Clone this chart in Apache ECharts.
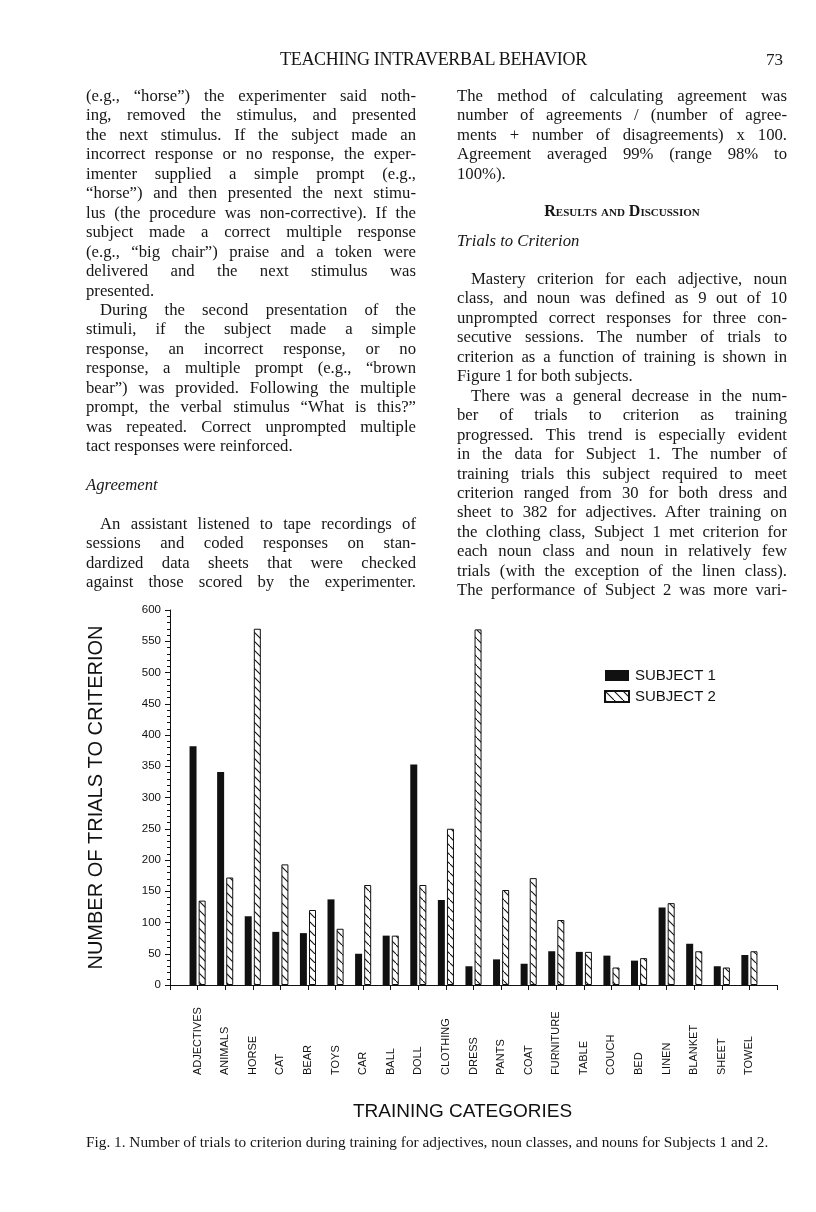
<!DOCTYPE html>
<html>
<head>
<meta charset="utf-8">
<script src="https://cdn.jsdelivr.net/npm/echarts@6/dist/echarts.min.js"></script>
<style>
	html, body { margin: 0; padding: 0; background: #fff; }
	#page { position: relative; width: 816px; height: 1212px; overflow: hidden; }
	#chart { position: absolute; left: 0; top: 0; width: 816px; height: 1212px; }
	.txt { position: absolute; font-family: "Liberation Serif", "DejaVu Serif", serif; color: #161616; font-size: 16.7px; line-height: 19.45px; z-index: 2; }
	.col { width: 330px; }
	.col div { white-space: nowrap; text-align: justify; text-align-last: justify; }
	.col div.l { text-align-last: left; }
	.col div.in { padding-left: 14px; }
	.col div.gap { height: 19.45px; }
	.col div.hd { font-style: italic; text-align-last: left; }
</style>
</head>
<body>
<div id="page">
	<div id="chart"></div>

	<div class="txt" style="left:280px;top:50px;font-size:18px;letter-spacing:-0.3px;">TEACHING INTRAVERBAL BEHAVIOR</div>
	<div class="txt" style="left:766px;top:50px;font-size:17px;">73</div>

	<!-- 左栏 -->
	<div class="txt col" style="left:86px;top:86px;">
		<div>(e.g., “horse”) the experimenter said noth-</div>
		<div>ing, removed the stimulus, and presented</div>
		<div>the next stimulus. If the subject made an</div>
		<div>incorrect response or no response, the exper-</div>
		<div>imenter supplied a simple prompt (e.g.,</div>
		<div>“horse”) and then presented the next stimu-</div>
		<div>lus (the procedure was non-corrective). If the</div>
		<div>subject made a correct multiple response</div>
		<div>(e.g., “big chair”) praise and a token were</div>
		<div>delivered and the next stimulus was</div>
		<div class="l">presented.</div>
		<div class="in">During the second presentation of the</div>
		<div>stimuli, if the subject made a simple</div>
		<div>response, an incorrect response, or no</div>
		<div>response, a multiple prompt (e.g., “brown</div>
		<div>bear”) was provided. Following the multiple</div>
		<div>prompt, the verbal stimulus “What is this?”</div>
		<div>was repeated. Correct unprompted multiple</div>
		<div class="l">tact responses were reinforced.</div>
		<div class="gap"></div>
		<div class="hd">Agreement</div>
		<div class="gap"></div>
		<div class="in">An assistant listened to tape recordings of</div>
		<div>sessions and coded responses on stan-</div>
		<div>dardized data sheets that were checked</div>
		<div>against those scored by the experimenter.</div>
	</div>

	<!-- 右栏 -->
	<div class="txt col" style="left:457px;top:86px;">
		<div>The method of calculating agreement was</div>
		<div>number of agreements / (number of agree-</div>
		<div>ments + number of disagreements) x 100.</div>
		<div>Agreement averaged 99% (range 98% to</div>
		<div class="l">100%).</div>
	</div>
	<div class="txt" style="left:457px;top:201px;width:330px;text-align:center;font-variant:small-caps;font-weight:bold;font-size:16px;">Results and Discussion</div>
	<div class="txt col" style="left:457px;top:231px;">
		<div class="hd">Trials to Criterion</div>
	</div>
	<div class="txt col" style="left:457px;top:269px;">
		<div class="in">Mastery criterion for each adjective, noun</div>
		<div>class, and noun was defined as 9 out of 10</div>
		<div>unprompted correct responses for three con-</div>
		<div>secutive sessions. The number of trials to</div>
		<div>criterion as a function of training is shown in</div>
		<div class="l">Figure 1 for both subjects.</div>
		<div class="in">There was a general decrease in the num-</div>
		<div>ber of trials to criterion as training</div>
		<div>progressed. This trend is especially evident</div>
		<div>in the data for Subject 1. The number of</div>
		<div>training trials this subject required to meet</div>
		<div>criterion ranged from 30 for both dress and</div>
		<div>sheet to 382 for adjectives. After training on</div>
		<div>the clothing class, Subject 1 met criterion for</div>
		<div>each noun class and noun in relatively few</div>
		<div>trials (with the exception of the linen class).</div>
		<div>The performance of Subject 2 was more vari-</div>
	</div>

	<div class="txt" style="left:86px;top:1132px;font-size:15.3px;">Fig. 1. Number of trials to criterion during training for adjectives, noun classes, and nouns for Subjects 1 and 2.</div>
</div>

<script>
	var categories = ['ADJECTIVES', 'ANIMALS', 'HORSE', 'CAT', 'BEAR', 'TOYS', 'CAR', 'BALL', 'DOLL', 'CLOTHING',
		'DRESS', 'PANTS', 'COAT', 'FURNITURE', 'TABLE', 'COUCH', 'BED', 'LINEN', 'BLANKET', 'SHEET', 'TOWEL'];
	var subject1 = [382, 341, 110, 85, 83, 137, 50, 79, 353, 136, 30, 41, 34, 54, 53, 47, 39, 124, 66, 30, 48];
	var subject2 = [135, 172, 570, 193, 120, 90, 160, 79, 160, 250, 569, 152, 171, 104, 53, 28, 43, 131, 54, 28, 54];
	var yTicks = [0, 50, 100, 150, 200, 250, 300, 350, 400, 450, 500, 550, 600];

	// 两端补空位，和原图一样坐标轴比柱子多出一格
	var xAxis = [''].concat(categories, ['']);
	var s1 = ['-'].concat(subject1, ['-']);
	var s2 = ['-'].concat(subject2, ['-']);

	/*斜线填充*/
	function hatch() {
		var c = document.createElement('canvas');
		c.width = 9;
		c.height = 9;
		var ctx = c.getContext('2d');
		ctx.fillStyle = '#fff';
		ctx.fillRect(0, 0, 9, 9);
		ctx.strokeStyle = '#111';
		ctx.lineWidth = 1.1;
		ctx.beginPath();
		ctx.moveTo(-1, -1);
		ctx.lineTo(10, 10);
		ctx.stroke();
		return c;
	}

	var font = 'Liberation Sans';
	var chart = echarts.init(document.getElementById('chart'), null, {renderer: 'canvas'});
	var option = {
		backgroundColor: '#fff',
		animation: false,
		grid: {left: 170, top: 610, width: 607, height: 375},
		legend: {
			orient: 'vertical',
			left: 599,
			top: 663,
			icon: 'rect',
			itemWidth: 24,
			itemHeight: 11,
			itemGap: 6,
			textStyle: {fontFamily: font, fontSize: 15, color: '#111', padding: [0, 0, 0, 1]},
			data: ['SUBJECT 1', 'SUBJECT 2']
		},
		xAxis: {
			type: 'category',
			data: xAxis,
			boundaryGap: false,
			name: 'TRAINING CATEGORIES',
			nameLocation: 'middle',
			nameGap: 117,
			nameTextStyle: {fontFamily: font, fontSize: 19, color: '#111', padding: [0, 22, 0, 0]},
			axisLine: {lineStyle: {color: '#111', width: 1}},
			axisTick: {show: true, length: 5, interval: 0, lineStyle: {color: '#111'}},
			axisLabel: {
				interval: 0,
				rotate: 90,
				align: 'left',
				verticalAlign: 'middle',
				margin: 90,
				fontFamily: font,
				fontSize: 11,
				color: '#111'
			},
			splitLine: {show: false}
		},
		yAxis: {
			type: 'value',
			min: 0,
			max: 600,
			interval: 50,
			name: 'NUMBER OF TRIALS TO CRITERION',
			nameLocation: 'middle',
			nameGap: 64,
			nameRotate: 90,
			nameTextStyle: {fontFamily: font, fontSize: 20, color: '#111'},
			axisLine: {show: true, lineStyle: {color: '#111', width: 1}},
			axisTick: {show: true, length: 5, lineStyle: {color: '#111'}},
			minorTick: {show: true, splitNumber: 5, length: 3, lineStyle: {color: '#111'}},
			axisLabel: {
				margin: 9,
				fontFamily: font,
				fontSize: 11.5,
				color: '#111',
				formatter: function (v) {
					return yTicks.indexOf(v) >= 0 ? String(v) : '';
				}
			},
			splitLine: {show: false}
		},
		series: [{
			name: 'SUBJECT 1',
			type: 'bar',
			data: s1,
			barWidth: 7,
			barGap: '30%',
			itemStyle: {color: '#111', borderColor: '#111', borderWidth: 0}
		}, {
			name: 'SUBJECT 2',
			type: 'bar',
			data: s2,
			barWidth: 7,
			itemStyle: {color: {image: hatch(), repeat: 'repeat'}, borderColor: '#111', borderWidth: 1}
		}]
	};
	chart.setOption(option);
</script>
</body>
</html>
